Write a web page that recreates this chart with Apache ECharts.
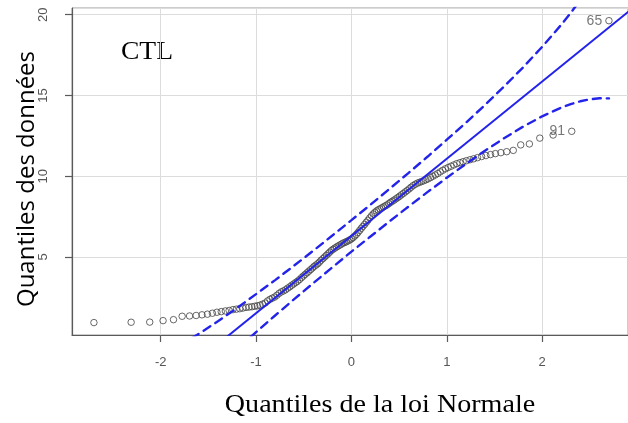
<!DOCTYPE html>
<html>
<head>
<meta charset="utf-8">
<script src="https://cdn.jsdelivr.net/npm/echarts@6/dist/echarts.min.js"></script>
<style>
  html, body { margin: 0; padding: 0; background: #ffffff; }
  #chart { width: 628px; height: 423px; }
</style>
</head>
<body>
<div id="chart"></div>
<script>
// Theoretical normal quantiles (x) for the 145 ranked observations
const theoQuantiles = [
  -2.700, -2.310, -2.115, -1.975, -1.866, -1.775, -1.697, -1.628, -1.567, -1.510,
  -1.458, -1.410, -1.365, -1.322, -1.282, -1.243, -1.206, -1.171, -1.138, -1.105,
  -1.074, -1.044, -1.014, -0.986, -0.958, -0.931, -0.905, -0.879, -0.854, -0.830,
  -0.805, -0.781, -0.758, -0.735, -0.713, -0.691, -0.669, -0.647, -0.626, -0.606,
  -0.585, -0.565, -0.545, -0.524, -0.505, -0.486, -0.466, -0.447, -0.428, -0.409,
  -0.391, -0.372, -0.354, -0.336, -0.318, -0.299, -0.281, -0.263, -0.245, -0.228,
  -0.210, -0.192, -0.174, -0.156, -0.139, -0.121, -0.104, -0.087, -0.069, -0.052,
  -0.035, -0.017, 0.000, 0.017, 0.035, 0.052, 0.069, 0.087, 0.104, 0.121,
  0.139, 0.156, 0.174, 0.192, 0.210, 0.228, 0.245, 0.263, 0.281, 0.299,
  0.318, 0.336, 0.354, 0.372, 0.391, 0.409, 0.428, 0.447, 0.466, 0.486,
  0.505, 0.524, 0.545, 0.565, 0.585, 0.606, 0.626, 0.647, 0.669, 0.691,
  0.713, 0.735, 0.758, 0.781, 0.805, 0.830, 0.854, 0.879, 0.905, 0.931,
  0.958, 0.986, 1.014, 1.044, 1.074, 1.105, 1.138, 1.171, 1.206, 1.243,
  1.282, 1.322, 1.365, 1.410, 1.458, 1.510, 1.567, 1.628, 1.697, 1.775,
  1.866, 1.975, 2.115, 2.310, 2.700
];

// Ordered sample values (y)
const sampleQuantiles = [
  0.94, 0.96, 0.97, 1.06, 1.12, 1.33, 1.35, 1.38, 1.42, 1.46,
  1.52, 1.58, 1.62, 1.66, 1.69, 1.74, 1.77, 1.80, 1.84, 1.88,
  1.90, 1.92, 1.95, 1.98, 2.02, 2.08, 2.15, 2.28, 2.38, 2.45,
  2.52, 2.63, 2.75, 2.84, 2.90, 2.97, 3.07, 3.15, 3.25, 3.33,
  3.42, 3.50, 3.60, 3.72, 3.82, 3.92, 4.02, 4.12, 4.22, 4.32,
  4.42, 4.50, 4.58, 4.68, 4.80, 4.90, 5.00, 5.10, 5.20, 5.30,
  5.40, 5.48, 5.55, 5.62, 5.68, 5.74, 5.80, 5.86, 5.90, 5.95,
  6.00, 6.06, 6.12, 6.20, 6.30, 6.40, 6.52, 6.65, 6.78, 6.90,
  7.02, 7.15, 7.28, 7.42, 7.55, 7.66, 7.76, 7.85, 7.92, 7.98,
  8.04, 8.10, 8.16, 8.22, 8.30, 8.38, 8.45, 8.52, 8.60, 8.68,
  8.76, 8.85, 8.94, 9.03, 9.12, 9.22, 9.32, 9.42, 9.50, 9.57,
  9.62, 9.67, 9.72, 9.78, 9.84, 9.92, 10.00, 10.08, 10.17, 10.27,
  10.37, 10.46, 10.54, 10.62, 10.70, 10.78, 10.84, 10.90, 10.96, 11.02,
  11.08, 11.15, 11.22, 11.28, 11.34, 11.40, 11.46, 11.52, 11.60, 11.94,
  12.00, 12.36, 12.55, 12.78, 19.63
];

// Identified observations (rank in the ordered sample -> observation id)
const labeledRanks = [144, 145];
const labeledIds = ['91', '65'];

// Reference line through the quartiles (two end points)
const refLineX = [-1.40, 3.00];
const refLineY = [-0.39, 20.64];

// Pointwise 95% confidence envelope
const envelopeX = [-1.8, -1.6, -1.4, -1.2, -1.0, -0.8, -0.6, -0.4, -0.2, 0.0, 0.2, 0.4, 0.6,
                   0.8, 1.0, 1.2, 1.4, 1.6, 1.8, 2.0, 2.2, 2.3, 2.4, 2.5, 2.6, 2.7];
const envelopeUpper = [-0.47, 0.25, 1.02, 1.84, 2.70, 3.57, 4.47, 5.39, 6.33, 7.28, 8.24, 9.22, 10.21,
                       11.22, 12.26, 13.31, 14.41, 15.55, 16.74, 18.01, 19.38, 20.12, 20.91, 21.74, 22.63, 23.60];
const envelopeLower = [-4.13, -2.95, -1.81, -0.71, 0.35, 1.38, 2.39, 3.38, 4.36, 5.33, 6.27, 7.21, 8.13,
                       9.03, 9.91, 10.76, 11.58, 12.35, 13.07, 13.71, 14.25, 14.47, 14.64, 14.76, 14.83, 14.82];

const zip = (xs, ys) => xs.map((x, i) => [x, ys[i]]);

const pointData = theoQuantiles.map((x, i) => {
  const k = labeledRanks.indexOf(i + 1);
  const item = { value: [x, sampleQuantiles[i]] };
  if (k >= 0) {
    item.label = {
      show: true, position: 'left', distance: 3,
      formatter: labeledIds[k],
      color: '#555', fontSize: 14, fontFamily: 'Liberation Sans, Arial, sans-serif'
    };
  }
  return item;
});

const blue = '#2323ea';
const chart = echarts.init(document.getElementById('chart'), null, { renderer: 'canvas' });

chart.setOption({
  animation: false,
  backgroundColor: '#ffffff',
  grid: {
    left: 72, top: 8, bottom: 88, right: -5.66,
    show: true, borderColor: '#9a9a9a', borderWidth: 1, backgroundColor: 'transparent'
  },
  xAxis: {
    type: 'value', min: -2.93, max: 2.9, splitNumber: 6,
    axisLine: { show: true, onZero: false, lineStyle: { color: '#5a5a5a', width: 1.2 } },
    axisTick: { show: true, length: 7, lineStyle: { color: '#5a5a5a', width: 1.2 } },
    axisLabel: {
      showMinLabel: false, showMaxLabel: false, margin: 21,
      color: '#555', fontSize: 13, fontFamily: 'Liberation Sans, Arial, sans-serif'
    },
    splitLine: { show: true, lineStyle: { color: '#dcdcdc', width: 1 } }
  },
  yAxis: {
    type: 'value', min: 0.171, max: 20.415, splitNumber: 4,
    axisLine: { show: true, onZero: false, lineStyle: { color: '#5a5a5a', width: 1.2 } },
    axisTick: { show: true, length: 7, lineStyle: { color: '#5a5a5a', width: 1.2 } },
    axisLabel: {
      showMinLabel: false, showMaxLabel: false, rotate: 90, margin: 22,
      color: '#555', fontSize: 13, fontFamily: 'Liberation Sans, Arial, sans-serif'
    },
    splitLine: { show: true, lineStyle: { color: '#dcdcdc', width: 1 } }
  },
  series: [
    {
      // open circles drawn with a transparent fill so overlapping rings stay visible
      type: 'scatter', data: pointData, symbol: 'circle', symbolSize: 6.5,
      itemStyle: { color: 'rgba(0,0,0,0)', borderColor: '#444', borderWidth: 1 },
      z: 3
    },
    {
      type: 'line', data: zip(envelopeX, envelopeUpper), symbol: 'none', clip: true,
      lineStyle: { color: blue, width: 2.4, type: [8, 6], cap: 'round' }, z: 4
    },
    {
      type: 'line', data: zip(envelopeX, envelopeLower), symbol: 'none', clip: true,
      lineStyle: { color: blue, width: 2.4, type: [8, 6], cap: 'round' }, z: 4
    },
    {
      type: 'line', data: zip(refLineX, refLineY), symbol: 'none', clip: true,
      lineStyle: { color: blue, width: 2 }, z: 4
    }
  ],
  graphic: [
    {
      type: 'text', x: 147, y: 52, scaleX: 1.06,
      style: {
        text: 'CTL', font: '26px "Liberation Serif", "Times New Roman", serif', fill: '#000',
        align: 'center', verticalAlign: 'middle', textAlign: 'center', textVerticalAlign: 'middle'
      }
    },
    {
      type: 'text', x: 27, y: 179, rotation: Math.PI / 2,
      style: {
        text: 'Quantiles des données', font: '24px "Open Sans", sans-serif', fill: '#000',
        align: 'center', verticalAlign: 'middle', textAlign: 'center', textVerticalAlign: 'middle'
      }
    },
    {
      type: 'text', x: 380, y: 405, scaleX: 1.08,
      style: {
        text: 'Quantiles de la loi Normale', font: '26px "Liberation Serif", "Times New Roman", serif', fill: '#000',
        align: 'center', verticalAlign: 'middle', textAlign: 'center', textVerticalAlign: 'middle'
      }
    }
  ]
});
</script>
</body>
</html>
